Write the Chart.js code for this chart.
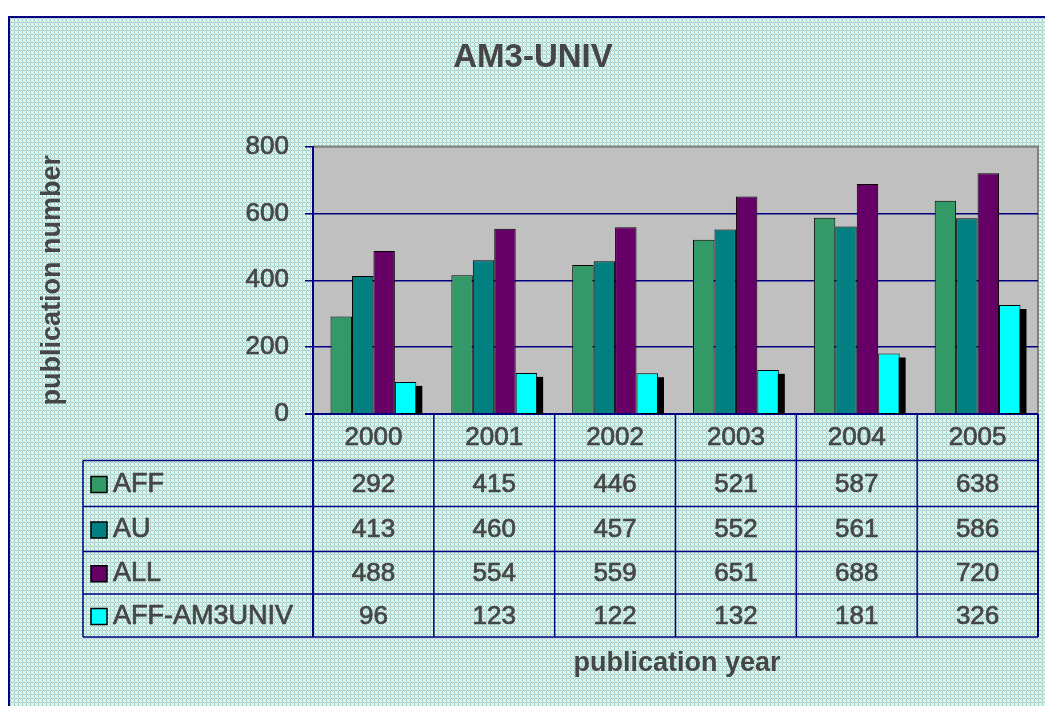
<!DOCTYPE html>
<html>
<head>
<meta charset="utf-8">
<script src="https://cdn.jsdelivr.net/npm/chart.js@4"></script>
<style>
  body { margin: 0; background: #fff; }
  canvas { display: block; }
</style>
</head>
<body>
<canvas id="chart" width="1045" height="706"></canvas>
<script>
// data
const years = ['2000', '2001', '2002', '2003', '2004', '2005'];
const seriesNames = ['AFF', 'AU', 'ALL', 'AFF-AM3UNIV'];
const aff = [292, 415, 446, 521, 587, 638];
const au = [413, 460, 457, 552, 561, 586];
const all = [488, 554, 559, 651, 688, 720];
const affAm3univ = [96, 123, 122, 132, 181, 326];
const seriesColors = ['#339966', '#008080', '#660066', '#00ffff'];

const textColor = '#464646';
const navy = '#000080';
Chart.defaults.font.family = "'Liberation Sans', Arial, sans-serif";

// the speckled excel background
function makePattern(ctx) {
	const c = document.createElement('canvas');
	c.width = 4;
	c.height = 4;
	const p = c.getContext('2d');
	const g = '#c0c0c0', cy = '#ccffff', t = '#99cccc', m = '#ccffcc';
	const grid = [
		[cy, m, g, cy],
		[m, cy, t, m],
		[g, t, cy, g],
		[cy, m, g, cy],
	];
	grid.forEach((row, y) => row.forEach((col, x) => {
		p.fillStyle = col;
		p.fillRect(x, y, 1, 1);
	}));
	return ctx.createPattern(c, 'repeat');
}

const backdrop = {
	id: 'backdrop',
	beforeDraw(chart) {
		const { ctx, width, height, chartArea: a } = chart;
		ctx.save();
		ctx.fillStyle = '#fff';
		ctx.fillRect(0, 0, width, height);
		ctx.fillStyle = makePattern(ctx);
		ctx.fillRect(8, 16, width - 8, height - 16);
		ctx.strokeStyle = navy;
		ctx.lineWidth = 2;
		ctx.beginPath();
		ctx.moveTo(9, height);
		ctx.lineTo(9, 17);
		ctx.lineTo(width, 17);
		ctx.stroke();
		// plot area
		ctx.fillStyle = '#c0c0c0';
		ctx.fillRect(a.left, a.top, a.right - a.left, a.bottom - a.top);
		ctx.strokeStyle = '#808080';
		ctx.beginPath();
		ctx.moveTo(a.left, a.top);
		ctx.lineTo(a.right, a.top);
		ctx.lineTo(a.right, a.bottom);
		ctx.stroke();
		ctx.restore();
	},
};

// black drop shadow behind the last series only
const barShadow = {
	id: 'barShadow',
	beforeDatasetsDraw(chart) {
		const { ctx, chartArea: a } = chart;
		const last = chart.data.datasets.length - 1;
		ctx.save();
		ctx.beginPath();
		ctx.rect(a.left, a.top, a.right - a.left, a.bottom - a.top);
		ctx.clip();
		ctx.fillStyle = '#000';
		chart.getDatasetMeta(last).data.forEach((bar) => {
			const { x, y, base, width } = bar.getProps(['x', 'y', 'base', 'width'], true);
			ctx.fillRect(x - width / 2 + 6, y + 4, width, base - y);
		});
		ctx.restore();
	},
};

// data table under the plot
const dataTable = {
	id: 'dataTable',
	afterDraw(chart) {
		const { ctx, chartArea: a } = chart;
		const xs = chart.scales.x;
		const cw = (a.right - a.left) / years.length;
		const rows = [a.bottom, 460.5, 506.5, 551.5, 594, 637];
		const tableLeft = 83;
		const values = [aff, au, all, affAm3univ];

		ctx.save();
		ctx.strokeStyle = navy;
		ctx.lineWidth = 1.5;
		for (let r = 1; r < rows.length; r++) {
			ctx.beginPath();
			ctx.moveTo(tableLeft, rows[r]);
			ctx.lineTo(a.right, rows[r]);
			ctx.stroke();
		}
		ctx.beginPath();
		ctx.moveTo(tableLeft, rows[1]);
		ctx.lineTo(tableLeft, rows[5]);
		ctx.stroke();
		for (let i = 0; i <= years.length; i++) {
			const x = a.left + i * cw;
			ctx.lineWidth = (i === 0 || i === years.length) ? 2 : 1.5;
			ctx.beginPath();
			ctx.moveTo(x, a.bottom);
			ctx.lineTo(x, rows[5]);
			ctx.stroke();
		}

		// slightly heavier text, like the old bitmap font
		const label = (txt, x, y) => {
			ctx.fillText(txt, x, y);
			ctx.strokeText(txt, x, y);
		};
		const numFont = "26px 'Liberation Sans', Arial, sans-serif";
		ctx.fillStyle = textColor;
		ctx.strokeStyle = textColor;
		ctx.lineWidth = 0.7;
		ctx.font = numFont;
		ctx.textAlign = 'center';
		ctx.textBaseline = 'middle';
		years.forEach((yr, i) => {
			label(yr, xs.getPixelForValue(i), (rows[0] + rows[1]) / 2 + 1);
		});
		values.forEach((arr, s) => {
			const cy = (rows[s + 1] + rows[s + 2]) / 2 + 1;
			arr.forEach((v, i) => {
				label(String(v), xs.getPixelForValue(i), cy);
			});
			// legend key
			ctx.fillStyle = seriesColors[s];
			ctx.fillRect(91, cy - 8, 16, 16);
			ctx.strokeStyle = '#000';
			ctx.lineWidth = 1.5;
			ctx.strokeRect(91, cy - 8, 16, 16);
			ctx.fillStyle = textColor;
			ctx.strokeStyle = textColor;
			ctx.lineWidth = 0.7;
			ctx.textAlign = 'left';
			ctx.font = "27px 'Liberation Sans', Arial, sans-serif";
			label(seriesNames[s], 113, cy);
			ctx.textAlign = 'center';
			ctx.font = numFont;
		});

		ctx.font = "bold 27px 'Liberation Sans', Arial, sans-serif";
		ctx.fillText('publication year', 677, 664);
		ctx.restore();
	},
};

new Chart(document.getElementById('chart'), {
	type: 'bar',
	data: {
		labels: years,
		datasets: [aff, au, all, affAm3univ].map((d, i) => ({
			label: seriesNames[i],
			data: d,
			backgroundColor: seriesColors[i],
			borderColor: '#000',
			borderWidth: 1,
			categoryPercentage: 0.71,
			barPercentage: 1,
		})),
	},
	options: {
		responsive: false,
		animation: false,
		devicePixelRatio: 1,
		layout: { padding: { left: 28, right: 7, top: 0, bottom: 292 } },
		plugins: {
			legend: { display: false },
			tooltip: { enabled: false },
			title: {
				display: true,
				text: 'AM3-UNIV',
				color: textColor,
				font: { size: 33, weight: 'bold' },
				padding: { top: 38, bottom: 69 },
			},
		},
		scales: {
			x: { display: false },
			y: {
				min: 0,
				max: 800,
				afterFit: (scale) => { scale.width = 285; },
				ticks: {
					stepSize: 200,
					color: textColor,
					font: { size: 26 },
					padding: 16,
					textStrokeColor: textColor,
					textStrokeWidth: 0.7,
				},
				grid: {
					color: (c) => (c.tick && c.tick.value === 800 ? '#808080' : navy),
					lineWidth: (c) => (c.tick && c.tick.value === 0 ? 2 : 1.5),
					tickColor: navy,
					tickLength: 8,
				},
				border: { display: true, color: navy, width: 2 },
				title: {
					display: true,
					text: 'publication number',
					color: textColor,
					font: { size: 27, weight: 'bold' },
					padding: { top: 8, bottom: 0 },
				},
			},
		},
	},
	plugins: [backdrop, barShadow, dataTable],
});
</script>
</body>
</html>
